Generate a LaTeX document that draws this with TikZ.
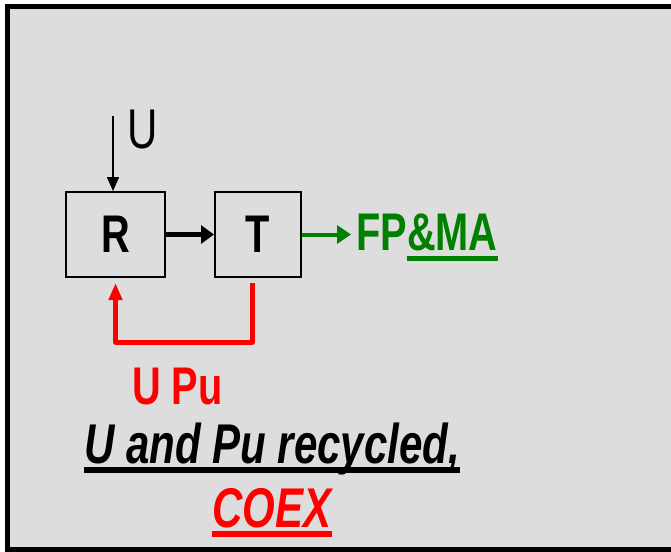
\documentclass[tikz,border=0pt]{standalone}
\usepackage{fontspec}
\newfontfamily\slidefont[FakeStretch=0.75]{Liberation Sans}
\usetikzlibrary{arrows.meta, positioning}

\definecolor{slidegrey}{RGB}{221,221,221}
\definecolor{fpgreen}{RGB}{0,128,0}

% thick bar under a piece of text: depth, thickness, text
\newcommand{\barunder}[3]{\setbox0=\hbox{#3}\rlap{\rule[-#1]{\wd0}{#2}}\box0}

\tikzset{
  blockbox/.style={draw, line width=2pt, minimum width=99pt, minimum height=85pt,
    inner sep=0pt, font=\slidefont\fontsize{53}{60}\selectfont\bfseries},
  slidetext/.style={inner sep=0pt, anchor=base, font=\slidefont\fontsize{53}{60}\selectfont\bfseries},
  bigtext/.style={inner sep=0pt, anchor=base, font=\slidefont\fontsize{56}{62}\selectfont\bfseries\itshape}
}

\begin{document}
\begin{tikzpicture}[x=1pt, y=-1pt]
        \useasboundingbox (0,0) rectangle (671,551);
        \clip (0,0) rectangle (671,551);

        % Frame, open on the right
        \fill[slidegrey] (7,7) rectangle (671,549);
        \draw[line width=5pt, line join=miter] (675,7) -| (7,549) -- (675,549);

        % Reactor and treatment
        \node[blockbox] (R) at (115.5,234.5) {R};
        \node[blockbox, minimum width=86pt, right=48pt of R] (T) {T};

        % Uranium feed
        \coordinate (Ufeed) at (113,116);
        \draw[line width=1.5pt, -{Triangle[length=14pt, width=12pt]}] (Ufeed) -- (Ufeed |- R.north);
        \node[slidetext, font=\slidefont\fontsize{56}{62}\selectfont] (Ulab) at (143,148) {U};

        % R to T
        \draw[line width=5pt, -{Triangle[length=13pt, width=18pt]}] (R.east) -- (T.west);

        % Waste out
        \node[slidetext, fpgreen, inner xsep=5pt, anchor=base west] (FPMA) at (351,250)
          {FP\barunder{11pt}{5pt}{\&MA}};
        \draw[fpgreen, line width=4pt, -{Triangle[length=14pt, width=18pt]}] (T.east) -- (T.east -| FPMA.west);

        % Recycling loop
        \draw[red, line width=5pt, line join=round, -{Triangle[length=17pt, width=13pt]}]
          ([xshift=-6pt, yshift=-5pt]T.south) -- ++(0,59) -| ([yshift=-5pt]R.south);
        \node[slidetext, red] (UPu) at (177.5,404) {U Pu};

        % Caption
        \node[bigtext] (recyc) at (272,463) {\barunder{10pt}{6pt}{U and Pu recycled,}};
        \node[bigtext, red] (coex) at (272,527) {\barunder{10pt}{6pt}{COEX}};
      \end{tikzpicture}
\end{document}
